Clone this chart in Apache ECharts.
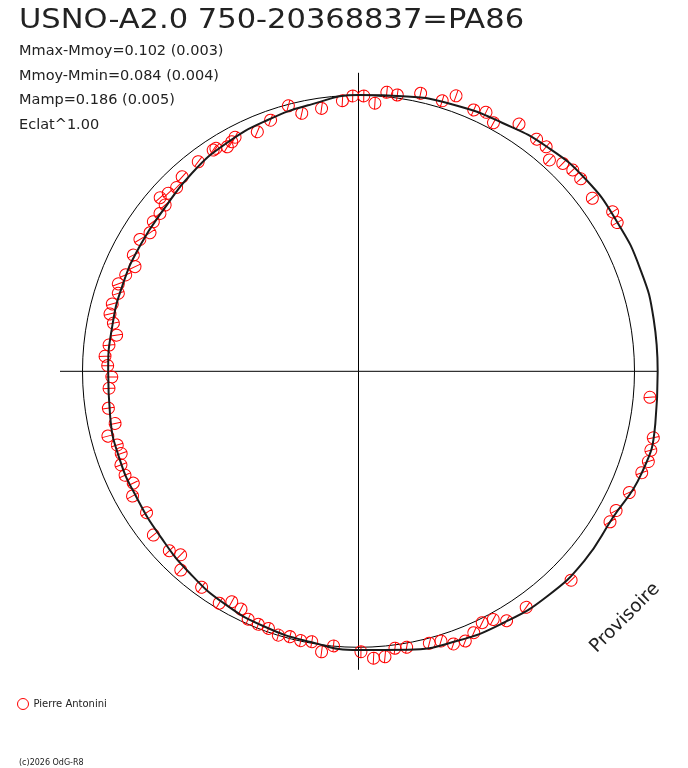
<!DOCTYPE html>
<html><head><meta charset="utf-8">
<script src="https://cdn.jsdelivr.net/npm/echarts@6/dist/echarts.min.js"></script>
<style>html,body{margin:0;padding:0;background:#fff}#c{width:688px;height:768px}</style>
</head><body><div id="c"></div><script>
// ---- texts ----
const titleText = 'USNO-A2.0 750-20368837=PA86';
const statLines = ['Mmax-Mmoy=0.102 (0.003)', 'Mmoy-Mmin=0.084 (0.004)', 'Mamp=0.186 (0.005)', 'Eclat^1.00'];
const observer = 'Pierre Antonini';
const watermark = 'Provisoire';
const credit = '(c)2026 OdG-R8';

// ---- observations: polar angle (deg, counter-clockwise from east) and relative flux (1 = mean) ----
const obsAngle = [134.7,132.2,127.4,122.6,123.3,120.3,118.9,117.8,112.9,109.3,104.8,102.4,98.0,93.4,91.2,88.9,86.5,84.2,82.0,77.4,
  72.8,70.5,66.2,63.8,61.5,57.0,52.5,50.1,47.9,45.5,43.2,40.9,36.5,32.1,29.9,354.9,347.3,344.9,342.7,340.3,
  335.9,331.6,329.1,315.5,305.4,300.7,298.5,296.2,293.8,291.6,289.2,287.0,284.6,279.9,277.5,275.3,273.0,270.5,264.8,262.5,
  260.2,257.9,255.5,253.1,250.7,248.4,246.0,243.7,241.2,239.0,234.0,228.2,225.9,223.5,218.6,213.7,208.9,206.4,204.0,201.5,
  199.1,197.0,194.5,192.1,188.4,183.9,181.3,178.7,176.6,174.0,171.5,168.9,167.0,164.7,162.0,160.0,157.5,154.9,152.7,148.9,
  146.4,143.9,141.5,139.3,138.8,136.9];
const obsFlux = [0.937,0.951,0.956,0.959,0.959,0.942,0.950,0.959,0.942,0.964,0.995,0.957,0.962,0.982,0.998,0.998,0.973,1.016,1.011,1.032,
  1.026,1.059,1.035,1.046,1.025,1.068,1.060,1.060,1.032,1.056,1.065,1.065,1.054,1.087,1.081,1.060,1.095,1.097,1.100,1.090,
  1.075,1.061,1.062,1.080,1.049,1.051,1.023,1.015,1.035,1.051,1.046,1.022,1.018,1.015,1.012,1.039,1.041,1.016,0.999,1.025,
  0.994,0.998,0.993,0.999,0.987,0.986,0.983,0.961,0.953,0.980,0.967,0.966,0.926,0.945,0.951,0.923,0.935,0.911,0.926,0.925,
  0.910,0.914,0.938,0.902,0.916,0.906,0.894,0.909,0.920,0.909,0.886,0.905,0.924,0.925,0.915,0.926,0.913,0.894,0.918,0.925,
  0.907,0.920,0.919,0.924,0.955,0.944];

// ---- fitted light curve ----
const fitAngle = [0,10,20,30,40,50,60,70,80,90,100,110,120,130,140,150,160,170,180,190,200,210,220,230,240,250,260,270,280,290,300,310,320,330,340,350,360];
const fitFlux = [1.084,1.086,1.086,1.082,1.078,1.062,1.040,1.026,1.011,1.001,0.982,0.968,0.955,0.938,0.918,0.913,0.910,0.907,0.907,0.914,
  0.922,0.925,0.935,0.953,0.972,0.986,0.996,1.010,1.024,1.040,1.052,1.064,1.068,1.063,1.090,1.092,1.084];

const CX = 358.5, CY = 371.3;
const R_MEAN = 276;          // pixel radius of flux = 1
const R_MAX = 1.2;           // data polar extent (in flux units)
const FONT = '"DejaVu Sans", sans-serif';
const INK = '#222';
const RED = '#ff0000';

function handAngle(a) {
  const t = a * Math.PI / 180;
  return Math.atan2(Math.abs(Math.sin(t)), Math.abs(Math.cos(t))) * 180 / Math.PI;
}

const chart = echarts.init(document.getElementById('c'), null, { renderer: 'canvas' });

const hiddenRadius = (i, max) => ({
  polarIndex: i, type: 'value', min: 0, max: max,
  axisLine: { show: false }, axisTick: { show: false }, axisLabel: { show: false }, splitLine: { show: false }
});
const angle = (i, extra) => Object.assign({
  polarIndex: i, type: 'value', min: 0, max: 360, interval: 90, startAngle: 0, clockwise: false,
  axisLine: { show: false }, axisTick: { show: false }, axisLabel: { show: false }, splitLine: { show: false }
}, extra);

const graphics = [{
  type: 'text', x: 19, y: 20.5, scaleX: 1.13,
  style: { text: titleText, font: '27px ' + FONT, fill: INK, align: 'left', verticalAlign: 'middle' }
}];
statLines.forEach((s, i) => graphics.push({
  type: 'text', x: 19, y: 51 + i * 24.8,
  style: { text: s, font: '14.5px ' + FONT, fill: INK, align: 'left', verticalAlign: 'middle' }
}));
graphics.push({
  type: 'text', x: 625, y: 618, rotation: Math.PI / 4,
  style: { text: watermark, font: '18.5px ' + FONT, fill: INK, align: 'center', verticalAlign: 'middle' }
});
graphics.push({
  type: 'text', x: 19, y: 763,
  style: { text: credit, font: '8px ' + FONT, fill: INK, align: 'left', verticalAlign: 'middle' }
});

chart.setOption({
  animation: false,
  backgroundColor: '#fff',
  legend: {
    left: 17, top: 698, itemWidth: 11, itemHeight: 11, padding: 0,
    data: [{ name: observer, icon: 'circle', itemStyle: { color: '#fff', borderColor: RED, borderWidth: 1 } }],
    textStyle: { fontFamily: FONT, fontSize: 10, color: INK }
  },
  polar: [
    { center: [CX, CY], radius: 298.5 },
    { center: [CX, CY], radius: R_MEAN },
    { center: [CX, CY], radius: R_MEAN * R_MAX }
  ],
  angleAxis: [
    angle(0, { splitLine: { show: true, lineStyle: { color: '#000', width: 1 } } }),
    angle(1, { axisLine: { show: true, lineStyle: { color: '#000', width: 1 } } }),
    angle(2, {})
  ],
  radiusAxis: [hiddenRadius(0, 1), hiddenRadius(1, 1), hiddenRadius(2, R_MAX)],
  graphic: graphics,
  series: [
    {
      type: 'scatter', name: observer, coordinateSystem: 'polar', polarIndex: 2, clip: false,
      symbol: 'path://M0,6A6,6,0,1,1,12,6A6,6,0,1,1,0,6ZM0,6L12,6', symbolSize: 12,
      itemStyle: { color: 'transparent', borderColor: RED, borderWidth: 1, opacity: 1 },
      emphasis: { disabled: true },
      data: obsAngle.map((a, i) => ({ value: [obsFlux[i], a], symbolRotate: handAngle(a) }))
    },
    {
      type: 'line', coordinateSystem: 'polar', polarIndex: 2, clip: false, smooth: true,
      symbol: 'none', lineStyle: { color: '#1a1a1a', width: 2 },
      data: fitAngle.map((a, i) => [fitFlux[i], a])
    }
  ]
});
</script></body></html>
